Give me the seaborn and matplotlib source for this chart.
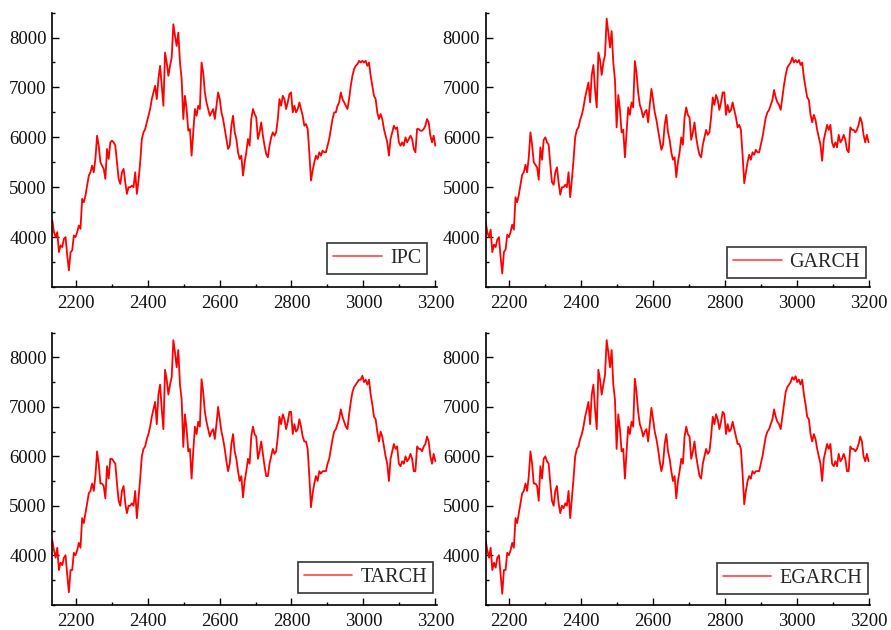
import numpy as np
import pandas as pd
import matplotlib
matplotlib.use("Agg")
import matplotlib.pyplot as plt
from matplotlib.ticker import MultipleLocator
import seaborn as sns

# Observation window shown on the horizontal axis
obs_start = 2135
obs_end = 3200

# Index level (IPC) and fitted series from the three volatility models
ipc = [
    4333, 4100, 4000, 4100, 3700, 3833, 3800, 3967, 4000, 3633,
    3333, 3700, 3733, 4033, 4000, 4100, 4233, 4167, 4767, 4700,
    4833, 5033, 5233, 5300, 5433, 5300, 5567, 6033, 5833, 5500,
    5433, 5367, 5167, 5767, 5567, 5900, 5933, 5900, 5833, 5500,
    5167, 5067, 5300, 5367, 5100, 4867, 5000, 5000, 5033, 5000,
    5300, 4867, 5133, 5500, 5967, 6100, 6167, 6300, 6433, 6567,
    6767, 6900, 7033, 6767, 7167, 7433, 7033, 6633, 7700, 7500,
    7233, 7433, 7600, 8267, 8033, 7833, 8100, 7500, 7167, 6367,
    6833, 6567, 6133, 6167, 5633, 6100, 6567, 6433, 6633, 6567,
    7500, 7300, 6900, 6700, 6567, 6433, 6500, 6567, 6367, 6633,
    6900, 6767, 6500, 6367, 6167, 5967, 5767, 5833, 6233, 6433,
    6100, 5967, 5700, 5567, 5633, 5233, 5500, 5700, 5967, 5833,
    6367, 6567, 6467, 6400, 5967, 6100, 6300, 6033, 5833, 5667,
    5600, 5833, 6000, 6100, 6033, 6100, 6367, 6767, 6633, 6833,
    6767, 6567, 6700, 6867, 6900, 6500, 6633, 6500, 6567, 6700,
    6567, 6433, 6233, 6267, 6167, 5700, 5133, 5333, 5500, 5633,
    5567, 5700, 5633, 5733, 5700, 5700, 5833, 5967, 6167, 6367,
    6500, 6500, 6633, 6700, 6900, 6767, 6700, 6633, 6567, 6767,
    7033, 7233, 7367, 7433, 7467, 7533, 7500, 7533, 7500, 7533,
    7433, 7500, 7233, 7033, 6833, 6767, 6500, 6367, 6467, 6367,
    6167, 6033, 5900, 5633, 5967, 6100, 6233, 6167, 6200, 5900,
    5833, 5900, 5833, 6000, 5900, 5967, 6033, 5967, 5767, 5700,
    6167, 6167, 6133, 6133, 6167, 6233, 6367, 6300, 6033, 5900,
    6033, 5833,
]

garch = [
    4300, 4100, 4000, 4150, 3700, 3850, 3800, 3950, 4000, 3600,
    3270, 3700, 3750, 4050, 4000, 4100, 4250, 4150, 4800, 4700,
    4850, 5050, 5250, 5300, 5450, 5300, 5600, 6100, 5850, 5500,
    5450, 5400, 5150, 5800, 5550, 5950, 6000, 5900, 5850, 5450,
    5100, 5050, 5300, 5400, 5100, 4850, 5000, 5000, 5050, 5000,
    5300, 4800, 5150, 5550, 6000, 6150, 6200, 6350, 6450, 6600,
    6800, 6950, 7100, 6700, 7250, 7450, 6950, 6600, 7700, 7550,
    7250, 7500, 7650, 8380, 8100, 7800, 8130, 7500, 7150, 6200,
    6850, 6550, 6100, 6150, 5600, 6100, 6600, 6450, 6700, 6600,
    7530, 7300, 6900, 6650, 6550, 6400, 6500, 6550, 6300, 6650,
    6970, 6750, 6500, 6350, 6150, 5950, 5750, 5850, 6250, 6450,
    6100, 5950, 5700, 5550, 5600, 5200, 5500, 5700, 6000, 5850,
    6400, 6600, 6450, 6400, 5950, 6100, 6300, 6000, 5800, 5650,
    5600, 5850, 6000, 6150, 6050, 6100, 6400, 6800, 6650, 6850,
    6750, 6550, 6700, 6900, 6900, 6450, 6650, 6500, 6550, 6700,
    6550, 6400, 6200, 6250, 6150, 5650, 5080, 5300, 5500, 5650,
    5550, 5700, 5650, 5750, 5700, 5700, 5850, 6000, 6200, 6400,
    6500, 6550, 6650, 6750, 6950, 6800, 6700, 6650, 6550, 6800,
    7050, 7250, 7400, 7450, 7500, 7600, 7500, 7550, 7500, 7550,
    7450, 7500, 7200, 7000, 6800, 6750, 6450, 6300, 6450, 6350,
    6150, 6000, 5850, 5530, 5950, 6100, 6250, 6150, 6250, 5900,
    5800, 5900, 5800, 6050, 5900, 5950, 6050, 5950, 5750, 5700,
    6200, 6150, 6150, 6100, 6150, 6250, 6400, 6300, 6050, 5900,
    6050, 5900,
]

tarch = [
    4300, 4100, 3950, 4150, 3700, 3850, 3800, 3950, 4000, 3600,
    3250, 3700, 3700, 4050, 4000, 4100, 4250, 4150, 4750, 4650,
    4850, 5050, 5250, 5300, 5450, 5300, 5600, 6100, 5850, 5450,
    5450, 5400, 5150, 5800, 5550, 5950, 5950, 5900, 5850, 5450,
    5100, 5000, 5300, 5400, 5050, 4850, 5000, 5000, 5050, 5000,
    5300, 4750, 5150, 5550, 6000, 6150, 6200, 6350, 6450, 6600,
    6800, 6950, 7100, 6650, 7250, 7450, 6950, 6550, 7750, 7550,
    7250, 7450, 7600, 8350, 8100, 7800, 8150, 7450, 7150, 6190,
    6850, 6550, 6100, 6150, 5550, 6100, 6600, 6450, 6700, 6600,
    7560, 7300, 6900, 6700, 6550, 6400, 6500, 6550, 6350, 6650,
    7000, 6750, 6500, 6350, 6150, 5900, 5700, 5850, 6250, 6450,
    6100, 5950, 5700, 5500, 5600, 5170, 5500, 5700, 5950, 5850,
    6400, 6600, 6450, 6400, 5950, 6100, 6300, 6050, 5800, 5600,
    5600, 5850, 6000, 6150, 6050, 6100, 6400, 6800, 6650, 6850,
    6750, 6550, 6700, 6900, 6900, 6450, 6650, 6500, 6550, 6750,
    6600, 6400, 6300, 6300, 6150, 5600, 4970, 5250, 5450, 5600,
    5500, 5700, 5650, 5700, 5700, 5700, 5850, 5950, 6150, 6350,
    6500, 6550, 6650, 6750, 6950, 6800, 6700, 6600, 6550, 6850,
    7100, 7300, 7400, 7450, 7500, 7550, 7550, 7630, 7500, 7550,
    7450, 7550, 7250, 7050, 6800, 6750, 6500, 6300, 6500, 6400,
    6200, 6000, 5850, 5500, 5950, 6100, 6250, 6150, 6200, 5850,
    5800, 5900, 5850, 6000, 5900, 5950, 6050, 5950, 5700, 5700,
    6200, 6150, 6150, 6100, 6200, 6250, 6400, 6300, 6000, 5850,
    6050, 5900,
]

egarch = [
    4300, 4100, 3950, 4150, 3700, 3850, 3750, 3950, 4000, 3600,
    3220, 3700, 3700, 4050, 4000, 4100, 4250, 4150, 4750, 4650,
    4850, 5050, 5250, 5300, 5450, 5300, 5600, 6100, 5850, 5450,
    5450, 5400, 5100, 5800, 5550, 5950, 6000, 5900, 5850, 5450,
    5100, 5000, 5300, 5400, 5050, 4850, 5000, 4950, 5050, 5000,
    5300, 4750, 5150, 5550, 6000, 6150, 6200, 6350, 6450, 6600,
    6800, 6950, 7100, 6650, 7250, 7450, 6950, 6550, 7750, 7550,
    7250, 7450, 7650, 8350, 8100, 7800, 8150, 7450, 7150, 6150,
    6850, 6550, 6100, 6150, 5550, 6100, 6600, 6450, 6700, 6600,
    7570, 7300, 6900, 6650, 6550, 6400, 6500, 6550, 6300, 6650,
    6980, 6750, 6500, 6350, 6150, 5900, 5700, 5850, 6250, 6450,
    6100, 5950, 5700, 5500, 5600, 5150, 5500, 5700, 5950, 5850,
    6400, 6600, 6450, 6400, 5950, 6100, 6300, 6000, 5800, 5600,
    5550, 5850, 6000, 6150, 6050, 6100, 6400, 6800, 6650, 6850,
    6750, 6550, 6700, 6900, 6850, 6450, 6650, 6500, 6550, 6700,
    6550, 6400, 6250, 6250, 6150, 5650, 5030, 5300, 5500, 5600,
    5550, 5700, 5650, 5700, 5700, 5700, 5850, 6000, 6200, 6400,
    6500, 6550, 6650, 6750, 6950, 6800, 6700, 6650, 6550, 6800,
    7050, 7300, 7400, 7450, 7500, 7600, 7550, 7620, 7500, 7550,
    7450, 7550, 7250, 7050, 6800, 6750, 6450, 6300, 6450, 6350,
    6150, 6000, 5850, 5500, 5950, 6100, 6250, 6150, 6250, 5850,
    5800, 5900, 5800, 6050, 5900, 5950, 6050, 5950, 5700, 5700,
    6200, 6150, 6150, 6100, 6150, 6250, 6400, 6300, 6000, 5900,
    6050, 5900,
]

series_names = ["IPC", "GARCH", "TARCH", "EGARCH"]
series_values = [ipc, garch, tarch, egarch]

frames = []
for name, vals in zip(series_names, series_values):
    t = np.linspace(obs_start, obs_end, len(vals))
    frames.append(pd.DataFrame({"t": t, "value": vals, "series": name}))
data = pd.concat(frames, ignore_index=True)

sns.set_theme(style="ticks")
plt.rcParams["font.family"] = ["Liberation Serif", "DejaVu Serif"]
plt.rcParams["mathtext.fontset"] = "stix"

fig = plt.figure(figsize=(8.91, 6.30), dpi=100)

# panel rectangles [left, bottom, width, height] in figure fractions
panel_rects = [
    [0.0587, 0.5444, 0.4315, 0.4356],
    [0.5451, 0.5444, 0.4313, 0.4356],
    [0.0587, 0.0402, 0.4315, 0.4317],
    [0.5451, 0.0402, 0.4313, 0.4317],
]
legend_anchor = [(0.975, 0.047), (0.99, 0.033), (0.99, 0.044), (0.995, 0.04)]

for name, rect, anchor in zip(series_names, panel_rects, legend_anchor):
    ax = fig.add_axes(rect)
    sub = data[data["series"] == name]
    sns.lineplot(data=sub, x="t", y="value", ax=ax, color="#ff0000",
                 linewidth=1.3, label=name)
    ax.set_xlim(obs_start, 3204)
    ax.set_ylim(3000, 8500)
    ax.set_xlabel("")
    ax.set_ylabel("")
    ax.xaxis.set_major_locator(MultipleLocator(200))
    ax.xaxis.set_minor_locator(MultipleLocator(100))
    ax.yaxis.set_major_locator(MultipleLocator(1000))
    ax.yaxis.set_minor_locator(MultipleLocator(500))
    ax.set_yticks([4000, 5000, 6000, 7000, 8000])
    ax.tick_params(axis="both", which="major", direction="in", length=5,
                   width=1.0, color="black", labelsize=13.5, labelcolor="#111111")
    ax.tick_params(axis="both", which="minor", direction="in", length=2.5,
                   width=1.0, color="black")
    ax.tick_params(axis="x", which="major", pad=6)
    ax.tick_params(axis="y", which="major", pad=4)
    for side in ("top", "right"):
        ax.spines[side].set_visible(False)
    for side in ("left", "bottom"):
        ax.spines[side].set_color("black")
        ax.spines[side].set_linewidth(1.2)
    leg = ax.legend(loc="lower right", bbox_to_anchor=anchor, borderaxespad=0,
                    frameon=True, fancybox=False, fontsize=14.5,
                    handlelength=2.4, handletextpad=0.4, borderpad=0.3)
    leg.get_frame().set_edgecolor("black")
    leg.get_frame().set_linewidth(1.2)
    for h in leg.get_lines():
        h.set_color("#ff4444")
        h.set_linewidth(1.2)

fig.savefig("out.png", dpi=100)
